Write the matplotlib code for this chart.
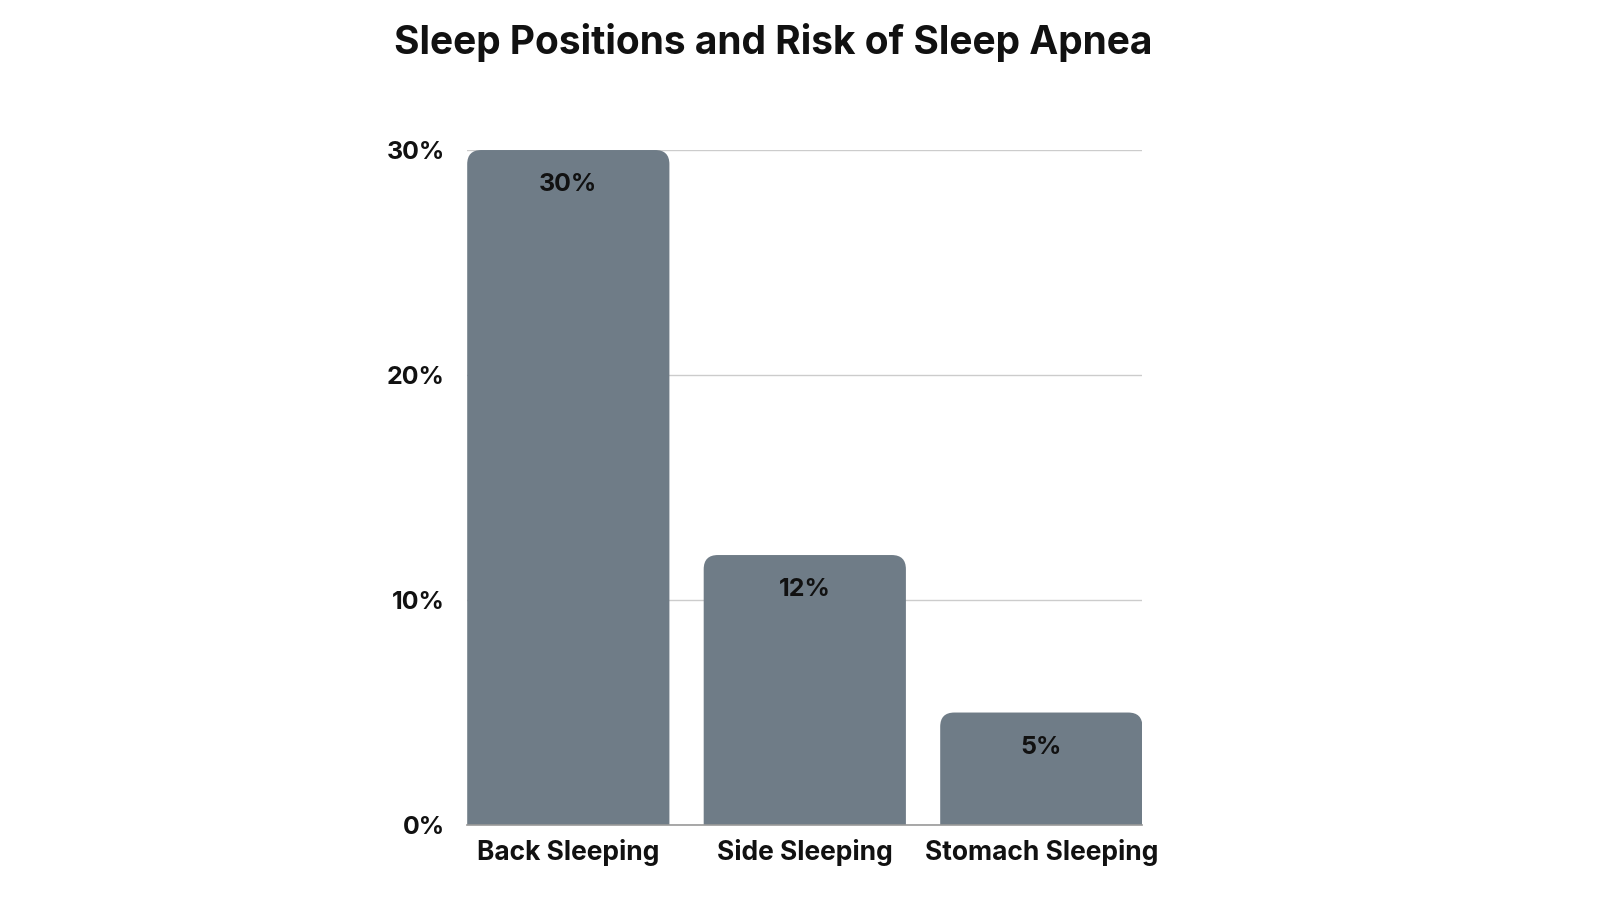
"""Sleep positions vs. risk of sleep apnea: simple bar chart with rounded bar tops."""

import matplotlib
matplotlib.use("Agg")
import matplotlib.pyplot as plt
from matplotlib.patches import PathPatch
from matplotlib.path import Path

positions = ["Back Sleeping", "Side Sleeping", "Stomach Sleeping"]
risk_pct = [30, 12, 5]
y_ticks = [0, 10, 20, 30]
y_tick_labels = ["0%", "10%", "20%", "30%"]

BAR_COLOR = "#6f7c87"
FONT = "Inter"
RX, RY = 0.06, 0.63  # corner radius in data units (x, y)


def rounded_top(x, w, h):
    verts = [(x, 0), (x, h - RY), (x, h), (x + RX, h), (x + w - RX, h),
             (x + w, h), (x + w, h - RY), (x + w, 0), (x, 0)]
    codes = [Path.MOVETO, Path.LINETO, Path.CURVE3, Path.CURVE3, Path.LINETO,
             Path.CURVE3, Path.CURVE3, Path.LINETO, Path.CLOSEPOLY]
    return Path(verts, codes)


fig = plt.figure(figsize=(16, 9), dpi=100)
ax = fig.add_axes([0.292, 0.0833, 0.422, 0.75])

bars = ax.bar(range(len(positions)), risk_pct, width=0.855, color=BAR_COLOR, zorder=2)

# swap the square bars for ones with rounded top corners
for b, v in zip(bars, risk_pct):
    x, w, h = b.get_x(), b.get_width(), b.get_height()
    b.set_visible(False)
    ax.add_patch(PathPatch(rounded_top(x, w, h), fc=BAR_COLOR, ec="none", zorder=2))
    ax.text(x + w / 2, h - 1.55, f"{v}%", ha="center", va="center",
            fontsize=18, fontweight="bold", family=FONT, color="#111111", zorder=3)

ax.set_xlim(-0.4275, 2.4275)
ax.set_ylim(0, 30)
ax.set_yticks(y_ticks)
ax.set_yticklabels(y_tick_labels, fontsize=18, fontweight="bold", family=FONT, color="#111111")
ax.set_xticks(range(len(positions)))
ax.set_xticklabels(positions, fontsize=19, fontweight="bold", family=FONT, color="#111111")
ax.tick_params(length=0)
ax.tick_params(axis="y", pad=16)
ax.tick_params(axis="x", pad=10)

for s in ["top", "right", "left"]:
    ax.spines[s].set_visible(False)
ax.spines["bottom"].set_color("#999999")
ax.spines["bottom"].set_linewidth(1.2)
ax.grid(axis="y", color="#cccccc", lw=1, zorder=0)
ax.set_axisbelow(True)

fig.text(0.4835, 0.953, "Sleep Positions and Risk of Sleep Apnea", ha="center", va="center",
         fontsize=28, fontweight="bold", family=FONT, color="#111111")

fig.savefig("out.png", dpi=100, facecolor="white")
